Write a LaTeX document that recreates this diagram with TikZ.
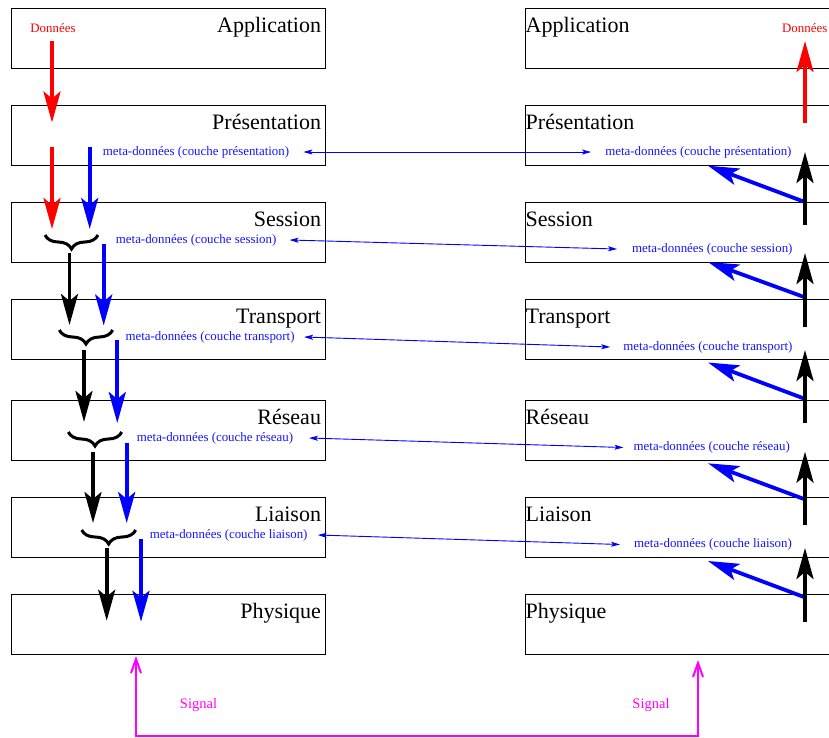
\documentclass[tikz,border=0pt]{standalone}
\usepackage{fontspec}
\setmainfont{Liberation Serif}
\usetikzlibrary{arrows.meta,decorations.pathreplacing}
\definecolor{sigcol}{RGB}{255,0,255}
\definecolor{metacol}{RGB}{20,20,255}

\begin{document}
\begin{tikzpicture}[x=1pt,y=-1pt,
  layer/.style={draw=black,line width=1.2pt,inner sep=0pt,anchor=north west,minimum height=60pt},
  title/.style={font=\fontsize{22}{24}\selectfont,inner sep=0pt},
  meta/.style={text=metacol,font=\fontsize{12.9}{14}\selectfont,inner sep=0pt},
  small/.style={font=\fontsize{12.9}{14}\selectfont,inner sep=0pt},
  fat/.style={line width=3.8pt,-{Stealth[length=31pt,width=17pt,inset=7pt]}},
  link/.style={blue,line width=0.9pt,{Stealth[length=9pt,width=5pt,inset=2pt]}-{Stealth[length=9pt,width=5pt,inset=2pt]}},
  sig/.style={sigcol,line width=2pt,{Straight Barb[length=14pt,width=10pt]}-{Straight Barb[length=14pt,width=10pt]}},
  brc/.style={decorate,decoration={brace,amplitude=14pt},line width=3pt}
]
\clip (0,0) rectangle (829,737);

% the two protocol stacks
\foreach \name/\top [count=\i] in {Application/8,Présentation/105,Session/202,Transport/299,Réseau/400,Liaison/497,Physique/594}{
  \node[layer,minimum width=314pt] (L\i) at (11,\top) {};
  \node[title,anchor=base east] (LT\i) at ([xshift=-5pt,yshift=-24pt]L\i.north east) {\name};
  \node[layer,minimum width=330pt] (R\i) at (525,\top) {};
  \node[title,anchor=base west] (RT\i) at ([xshift=0.5pt,yshift=-24pt]R\i.north west) {\name};
}

% user data
\node[small,text=red] (dl) at (53,28) {Données};
\node[small,text=red] (dr) at (804.7,28) {Données};

% per-layer metadata, sender and receiver
\node[meta,anchor=west] (ml2) at (102.7,152) {meta-données (couche présentation)};
\node[meta,anchor=west] (ml3) at (115.7,240) {meta-données (couche session)};
\node[meta,anchor=west] (ml4) at (125.3,337) {meta-données (couche transport)};
\node[meta,anchor=west] (ml5) at (136.7,438) {meta-données (couche réseau)};
\node[meta,anchor=west] (ml6) at (149.7,535) {meta-données (couche liaison)};
\node[meta,anchor=east] (mr2) at (791.7,152) {meta-données (couche présentation)};
\node[meta,anchor=east] (mr3) at (792.7,249) {meta-données (couche session)};
\node[meta,anchor=east] (mr4) at (792.7,347) {meta-données (couche transport)};
\node[meta,anchor=east] (mr5) at (790,447.5) {meta-données (couche réseau)};
\node[meta,anchor=east] (mr6) at (792,544.5) {meta-données (couche liaison)};

% peer-to-peer links
\foreach \i/\a/\b in {2/14/14,3/13/14.7,4/9.3/13,5/15.7/10,6/10/14}
  \draw[link] ([xshift=\a pt]ml\i.east) -- ([xshift=-\b pt]mr\i.west);

% sender: encapsulation going down
\coordinate (r0a) at (52,41);  \coordinate (r0b) at (52,122.5);
\coordinate (r1a) at (52,147); \coordinate (r1b) at (52,229);
\draw[fat,red] (r0a) -- (r0b);
\draw[fat,red] (r1a) -- (r1b);
\foreach \i/\xm/\ma/\mb/\xk/\ka/\kb in {
  1/89.7/147/229/0/0/0,
  2/103.7/244/325.5/69.5/253/325,
  3/117.3/340/423/84/350/422,
  4/126.7/442.7/523/93/451.7/523,
  5/141/539/621.7/106.7/548/620.7}{
  \coordinate (m\i a) at (\xm,\ma); \coordinate (m\i b) at (\xm,\mb);
  \draw[fat,blue] (m\i a) -- (m\i b);
  \ifnum\i>1
    \coordinate (k\i a) at (\xk,\ka); \coordinate (k\i b) at (\xk,\kb);
    \draw[fat,black] (k\i a) -- (k\i b);
  \fi
}
% braces grouping data with metadata
\foreach \i/\xa/\xb/\y in {1/98/45/235,2/112.7/59.3/330,3/121.7/68.3/432,4/135.7/81.7/530}{
  \coordinate (b\i a) at (\xa,\y); \coordinate (b\i b) at (\xb,\y);
  \draw[brc] (b\i a) -- (b\i b);
}

% receiver: decapsulation going up
\coordinate (u0a) at (805,123); \coordinate (u0b) at (805,41);
\draw[fat,red] (u0a) -- (u0b);
\foreach \i/\ya/\yb/\da/\db in {
  1/225/152/201.7/165.7,
  2/326.7/253/297/262,
  3/423/350/398.5/362.5,
  4/525/451.7/499/463.3,
  5/621.7/548/597/561}{
  \coordinate (q\i a) at (804,\da); \coordinate (q\i b) at (708,\db);
  \draw[fat,blue] (q\i a) -- (q\i b);
  \coordinate (u\i a) at (805,\ya); \coordinate (u\i b) at (805,\yb);
  \draw[fat,black] (u\i a) -- (u\i b);
}

% physical signal
\coordinate (s1) at (136,656); \coordinate (s2) at (136,736);
\coordinate (s3) at (698,736); \coordinate (s4) at (698,660);
\draw[sig] (s1) -- (s2) -- (s3) -- (s4);
\node[small,text=sigcol,font=\fontsize{14.5}{16}\selectfont] (sl) at (198.5,705) {Signal};
\node[small,text=sigcol,font=\fontsize{14.5}{16}\selectfont] (sr) at (651,705) {Signal};
\end{tikzpicture}
\end{document}
